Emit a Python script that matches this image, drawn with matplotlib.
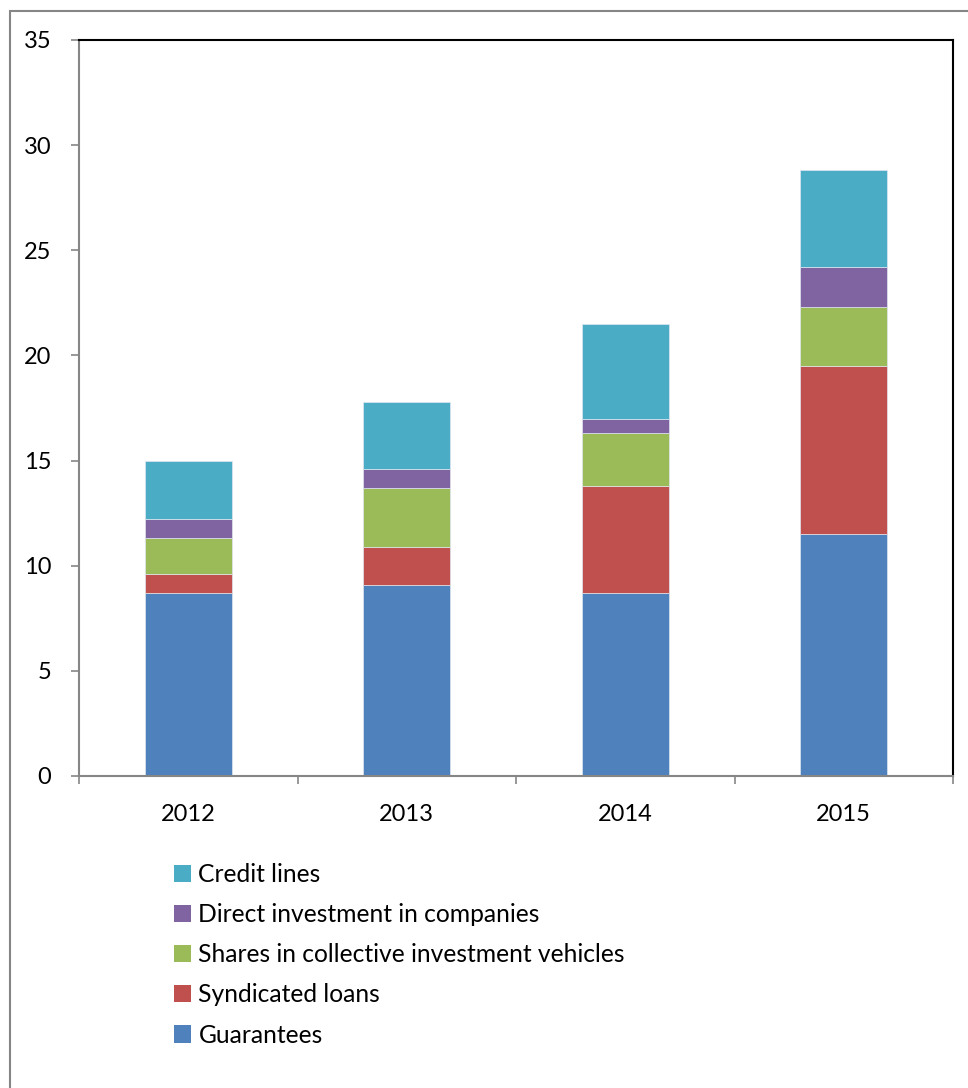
import matplotlib
matplotlib.use("Agg")
import matplotlib.pyplot as plt
from matplotlib.patches import Rectangle, Patch
import numpy as np

plt.rcParams['font.family'] = ['Lato', 'DejaVu Sans']

years = ['2012', '2013', '2014', '2015']
guarantees = [8.7, 9.1, 8.7, 11.5]
syndicated = [0.9, 1.8, 5.1, 8.0]
shares = [1.7, 2.8, 2.5, 2.8]
direct = [0.9, 0.9, 0.7, 1.9]
credit = [2.8, 3.2, 4.5, 4.6]

series = [
    ('Guarantees', guarantees, '#4F81BD'),
    ('Syndicated loans', syndicated, '#C0504D'),
    ('Shares in collective investment vehicles', shares, '#9BBB59'),
    ('Direct investment in companies', direct, '#8064A2'),
    ('Credit lines', credit, '#4BACC6'),
]

fig = plt.figure(figsize=(9.68, 10.88), dpi=100)
ax = fig.add_axes([79/968, 1-776/1088, (953-79)/968, (776-40)/1088])

x = np.arange(len(years))
bottom = np.zeros(len(years))
handles = []
for name, vals, col in series:
    ax.bar(x, vals, 0.4, bottom=bottom, color=col, edgecolor='#dfe6ef', linewidth=0.5)
    bottom += np.array(vals)
    handles.append(Patch(facecolor=col, label=name))

ax.set_xlim(-0.5, 3.5)
ax.set_ylim(0, 35)
ax.set_yticks(range(0, 36, 5))
ax.set_xticks(x)
ax.set_xticklabels(years)
ax.set_xticks(np.arange(-0.5, 4, 1), minor=True)
ax.tick_params(axis='x', which='major', length=0, pad=20, labelsize=17)
ax.tick_params(axis='x', which='minor', length=6, color='#868686', width=1.2)
ax.tick_params(axis='y', length=6, color='#868686', width=1.2, pad=14, labelsize=17)
for s in ['left', 'bottom']:
    ax.spines[s].set_color('#868686')
    ax.spines[s].set_linewidth(1.5)
for s in ['top', 'right']:
    ax.spines[s].set_color('black')
    ax.spines[s].set_linewidth(1.5)

fig.legend(handles[::-1], [h.get_label() for h in handles[::-1]],
           loc='upper left', bbox_to_anchor=(164/968, 1-853/1088),
           frameon=False, fontsize=17.7, handlelength=0.7, handleheight=0.7,
           handletextpad=0.3, labelspacing=0.7, borderaxespad=0)

fig.patches.append(Rectangle((10/968, -0.05), 1.2, 1-11/1088+0.05,
                             transform=fig.transFigure, fill=False,
                             edgecolor='#868686', linewidth=1.5))

fig.savefig('out.png', dpi=100)
